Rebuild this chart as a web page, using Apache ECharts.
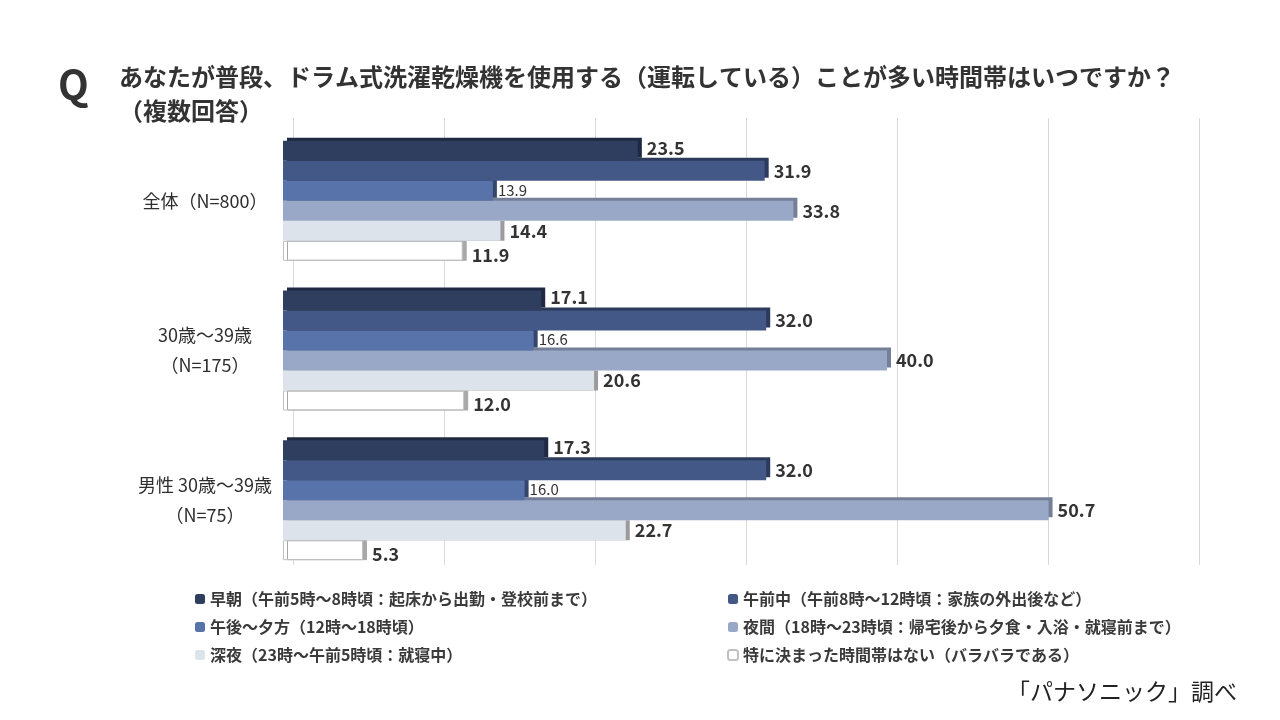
<!DOCTYPE html>
<html>
<head>
<meta charset="utf-8">
<script src="https://cdn.jsdelivr.net/npm/echarts@6/dist/echarts.min.js"></script>
<style>
  html, body { margin: 0; padding: 0; background: #fff; }
  #chart { width: 1280px; height: 720px; }
</style>
</head>
<body>
<div id="chart"></div>
<script>
var categories = ['全体（N=800）', '30歳～39歳\n（N=175）', '男性 30歳～39歳\n（N=75）'];
var seriesNames = [
  '早朝（午前5時～8時頃：起床から出勤・登校前まで）',
  '午前中（午前8時～12時頃：家族の外出後など）',
  '午後～夕方（12時～18時頃）',
  '夜間（18時～23時頃：帰宅後から夕食・入浴・就寝前まで）',
  '深夜（23時～午前5時頃：就寝中）',
  '特に決まった時間帯はない（バラバラである）'
];
var earlyMorning = [23.5, 17.1, 17.3];
var morning = [31.9, 32.0, 32.0];
var afternoon = [13.9, 16.6, 16.0];
var evening = [33.8, 40.0, 50.7];
var lateNight = [14.4, 20.6, 22.7];
var noFixed = [11.9, 12.0, 5.3];
var xTicks = [0, 10, 20, 30, 40, 50, 60];

var seriesValues = [earlyMorning, morning, afternoon, evening, lateNight, noFixed];
var colors = ['#2f3d5e', '#435886', '#5873a9', '#9aa8c7', '#dce3eb', '#ffffff'];
var sideColors = ['#1f2a42', '#2c3b5c', '#34466b', '#767f98', '#9b9b9b', '#a8a8a8'];
var labelOffsets = [[0, -3], [0, 0], [0, -1], [0, 0], [0, 0], [0, 4]];

var font = '"Noto Sans CJK JP", "Noto Sans", sans-serif';
var chart = echarts.init(document.getElementById('chart'));

var series = [];
for (var i = 0; i < seriesValues.length; i++) {
  series.push({
    name: seriesNames[i],
    type: 'bar',
    data: seriesValues[i],
    barWidth: 20,
    barGap: '0%',
    z: 10 - i,
    itemStyle: {
      color: colors[i],
      borderColor: i === 5 ? '#c0c0c0' : colors[i],
      borderWidth: i === 5 ? 1 : 0,
      shadowColor: sideColors[i],
      shadowOffsetX: 4,
      shadowOffsetY: i >= 4 ? 0 : -3,
      shadowBlur: 0
    },
    label: {
      show: true,
      position: 'right',
      distance: i === 2 ? 5 : 9,
      fontFamily: font,
      fontSize: i === 2 ? 15 : 18,
      fontWeight: i === 2 ? 'normal' : 'bold',
      color: '#333',
      offset: labelOffsets[i],
      formatter: function (p) { return p.value.toFixed(1); }
    }
  });
}

// back wall gridlines (3D look), drawn from a second value axis
series.push({
  type: 'bar',
  xAxisIndex: 1,
  yAxisIndex: 1,
  data: [],
  silent: true
});

chart.setOption({
  backgroundColor: '#fff',
  animation: false,
  title: [{
    text: 'Q',
    left: 53,
    top: 60,
    textStyle: { fontFamily: font, fontSize: 40, fontWeight: 'bold', color: '#333' }
  }, {
    text: 'あなたが普段、ドラム式洗濯乾燥機を使用する（運転している）ことが多い時間帯はいつですか？\n（複数回答）',
    left: 114,
    top: 55,
    textStyle: { fontFamily: font, fontSize: 24, fontWeight: 'bold', color: '#333', lineHeight: 34 }
  }, {
    text: '「パナソニック」調べ',
    right: 38,
    top: 675,
    textStyle: { fontFamily: font, fontSize: 23, fontWeight: 'normal', color: '#222' }
  }],
  legend: [{
    orient: 'vertical',
    left: 190,
    top: 586,
    itemWidth: 10,
    itemHeight: 10,
    itemGap: 12,
    data: [seriesNames[0], seriesNames[2], seriesNames[4]],
    textStyle: { fontFamily: font, fontSize: 16, fontWeight: 'bold', color: '#3a3a3a' }
  }, {
    orient: 'vertical',
    left: 722,
    top: 586,
    itemWidth: 10,
    itemHeight: 10,
    itemGap: 12,
    data: [seriesNames[1], seriesNames[3], seriesNames[5]],
    textStyle: { fontFamily: font, fontSize: 16, fontWeight: 'bold', color: '#3a3a3a' }
  }],
  grid: [
    { left: 283, width: 906, top: 126, bottom: 145 },
    { left: 293, width: 906, top: 118, bottom: 155 }
  ],
  xAxis: [{
    type: 'value',
    gridIndex: 0,
    min: xTicks[0],
    max: xTicks[xTicks.length - 1],
    interval: 10,
    axisLabel: { show: false },
    axisLine: { show: false },
    axisTick: { show: false },
    splitLine: { show: false }
  }, {
    type: 'value',
    gridIndex: 1,
    min: xTicks[0],
    max: xTicks[xTicks.length - 1],
    interval: 10,
    axisLabel: { show: false },
    axisLine: { show: false },
    axisTick: { show: false },
    splitLine: { show: true, lineStyle: { color: '#d9d9d9', width: 1 } }
  }],
  yAxis: [{
    type: 'category',
    gridIndex: 0,
    data: categories,
    inverse: true,
    axisLine: { show: false },
    axisTick: { show: false },
    axisLabel: {
      margin: 78,
      align: 'center',
      fontFamily: font,
      fontSize: 18,
      fontWeight: 'normal',
      lineHeight: 30,
      color: '#2e2e2e'
    }
  }, {
    type: 'category',
    gridIndex: 1,
    data: categories,
    show: false
  }],
  series: series
});
</script>
</body>
</html>
